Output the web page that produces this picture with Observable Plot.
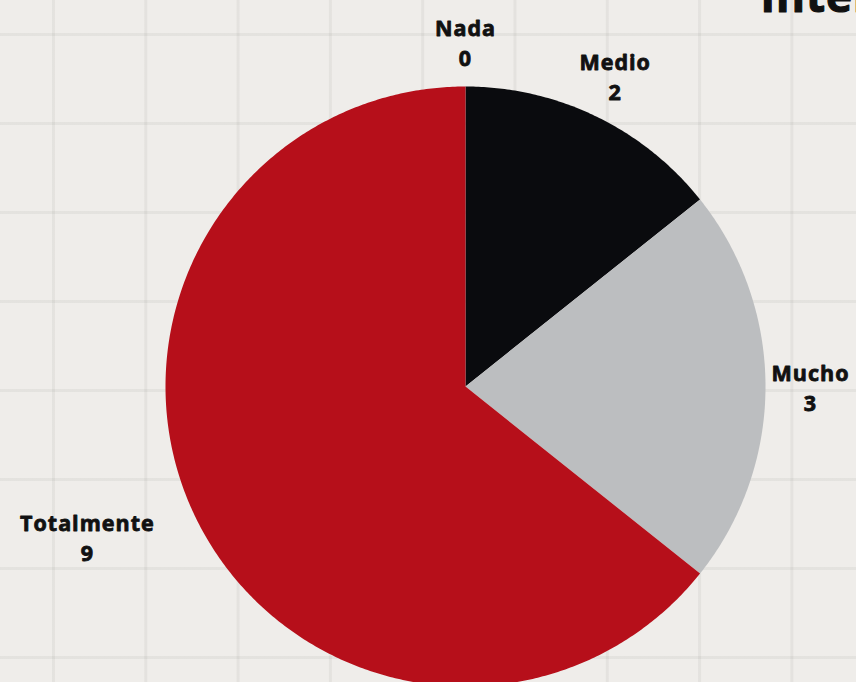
<!DOCTYPE html>
<html>
<head>
<meta charset="utf-8">
<script src="https://cdn.jsdelivr.net/npm/d3@7"></script>
<script src="https://cdn.jsdelivr.net/npm/@observablehq/plot@0.6"></script>
<style>
html, body { margin: 0; padding: 0; }
body {
  width: 856px; height: 682px; overflow: hidden; position: relative;
  background-color: #efedea;
  background-image:
    linear-gradient(to right, rgba(120,116,110,0.09) 0px, rgba(120,116,110,0.09) 3px, transparent 3px),
    linear-gradient(to bottom, rgba(120,116,110,0.09) 0px, rgba(120,116,110,0.09) 3px, transparent 3px);
  background-size: 92.3px 100%, 100% 89px;
  background-position: 52px 0, 0 33px;
}
#chart { position: absolute; left: 0; top: 0; }
#chart text { letter-spacing: 1px; }
</style>
</head>
<body>
<div id="chart"></div>
<script>
// ---- data ----
const categories = ["Nada", "Medio", "Mucho", "Totalmente"];
const values = [0, 2, 3, 9];
const sliceColors = ["#0a0b0e", "#0a0b0e", "#bcbec0", "#b60f1a"];
const titleText = "Interés";

// ---- layout ----
const W = 856, H = 682;
const cxPx = 465, cyPx = 386, rPx = 300;
const labelSize = 21.5;
const letterSp = 1;
const labelFont = `bold ${labelSize}px 'Open Sans'`;

const arcs = d3.pie().sort(null).value(d => d)(values);

// slice outlines in unit-radius coordinates (y up)
const slicePts = [];
arcs.forEach((a, i) => {
  const span = a.endAngle - a.startAngle;
  if (span <= 0) return;
  const cat = categories[i];
  slicePts.push({cat, x: 0, y: 0});
  const n = Math.max(2, Math.ceil(span / (Math.PI / 360)));
  for (let k = 0; k <= n; k++) {
    const t = a.startAngle + span * k / n;
    slicePts.push({cat, x: Math.sin(t), y: Math.cos(t)});
  }
});

// labels: centred block at radius R; if the block would overlap the pie,
// shift it sideways so that its inner edge sits on the radius point
const ctx = document.createElement("canvas").getContext("2d");
ctx.font = labelFont;
const measure = s => ctx.measureText(s).width + letterSp * s.length;
const R = 1.15;
const labels = arcs.map((a, i) => {
  const mid = (a.startAngle + a.endAngle) / 2;
  const txt1 = categories[i], txt2 = String(values[i]);
  const hw = Math.max(measure(txt1), measure(txt2)) / 2;
  const hh = 28;
  let px = R * rPx * Math.sin(mid), py = R * rPx * Math.cos(mid);
  const clampX = Math.min(Math.max(0, px - hw), px + hw);
  const clampY = Math.min(Math.max(0, py - hh), py + hh);
  if (Math.hypot(clampX, clampY) < rPx) px += Math.sign(Math.sin(mid)) * hw;
  return {x: px / rPx, y: py / rPx, text: txt1 + "\n" + txt2};
});

const plot = Plot.plot({
  width: W, height: H,
  margin: 0,
  style: "background: transparent; overflow: visible;",
  x: {domain: [-cxPx / rPx, (W - cxPx) / rPx], axis: null},
  y: {domain: [-(H - cyPx) / rPx, cyPx / rPx], axis: null},
  color: {domain: categories, range: sliceColors},
  marks: [
    Plot.line(slicePts, {x: "x", y: "y", z: "cat", fill: "cat", stroke: "none", curve: "linear-closed"}),
    Plot.text(labels, {
      x: "x", y: "y", text: "text", textAnchor: "middle",
      fill: "#111111", stroke: "#111111", strokeWidth: 0.8,
      fontFamily: "'Open Sans', sans-serif", fontWeight: "bold",
      fontSize: labelSize, lineHeight: 1.4
    }),
    Plot.text([titleText], {
      text: d => d, frameAnchor: "top-left", dx: 760, dy: 11, lineAnchor: "bottom",
      fill: "#111111", stroke: "#111111", strokeWidth: 1.2,
      fontFamily: "'Open Sans', sans-serif", fontWeight: "bold", fontSize: 44
    })
  ]
});
document.getElementById("chart").appendChild(plot);
</script>
</body>
</html>
